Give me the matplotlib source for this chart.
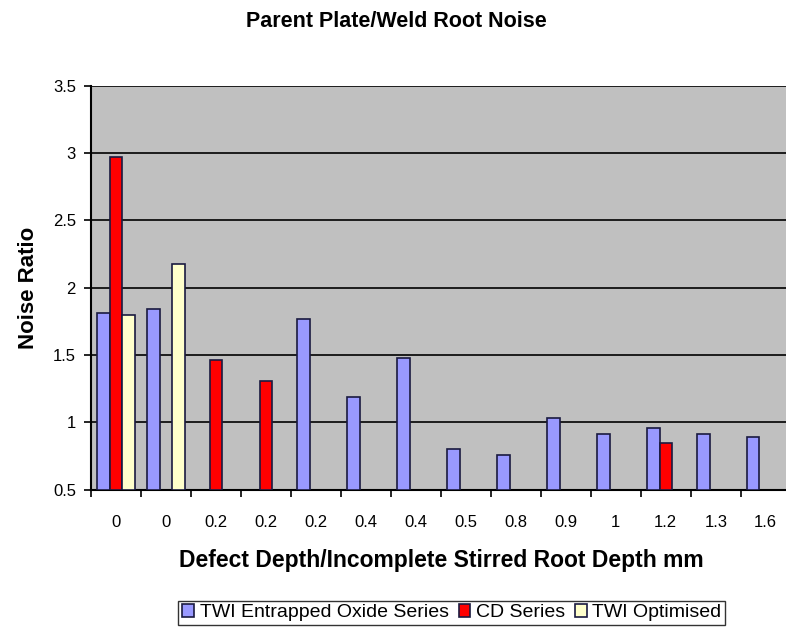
import matplotlib.pyplot as plt
import numpy as np

plt.rcParams['font.family'] = ['Liberation Sans', 'DejaVu Sans']

categories = ['0', '0', '0.2', '0.2', '0.2', '0.4', '0.4', '0.5', '0.8', '0.9', '1', '1.2', '1.3', '1.6']
twi_oxide = [1.81, 1.84, np.nan, np.nan, 1.77, 1.19, 1.48, 0.80, 0.76, 1.03, 0.91, 0.96, 0.91, 0.89]
cd_series = [2.97, np.nan, 1.46, 1.31, np.nan, np.nan, np.nan, np.nan, np.nan, np.nan, np.nan, 0.85, np.nan, np.nan]
twi_optimised = [1.80, 2.18, np.nan, np.nan, np.nan, np.nan, np.nan, np.nan, np.nan, np.nan, np.nan, np.nan, np.nan, np.nan]

fig = plt.figure(figsize=(7.86, 6.31), dpi=100)
ax = fig.add_axes([0.116, 0.224, 0.89, 0.64])
ax.set_facecolor('#C0C0C0')

x = np.arange(len(categories))
w = 0.25
series = [(twi_oxide, '#9999FF', 'TWI Entrapped Oxide Series'),
          (cd_series, '#FF0000', 'CD Series'),
          (twi_optimised, '#FFFFCC', 'TWI Optimised')]
for i, (vals, col, lab) in enumerate(series):
    vals = np.array(vals, dtype=float)
    ax.bar(x + (i - 1) * w, vals - 0.5, bottom=0.5, width=w, color=col,
           edgecolor='#1a1a40', linewidth=1.2, label=lab, zorder=3)

ax.set_ylim(0.5, 3.5)
ax.set_xlim(-0.5, len(categories) - 0.5)
ax.set_yticks([0.5, 1, 1.5, 2, 2.5, 3, 3.5])
ax.set_yticklabels(['0.5', '1', '1.5', '2', '2.5', '3', '3.5'])
ax.yaxis.grid(True, color='black', linewidth=1.2, zorder=1)
ax.set_axisbelow(True)

ax.set_xticks(x)
ax.set_xticklabels(categories)
ax.set_xticks(np.arange(-0.5, len(categories)), minor=True)
ax.tick_params(axis='x', which='major', length=0, labelsize=12, pad=18)
ax.tick_params(axis='x', which='minor', length=5, width=1.2, direction='out')
ax.tick_params(axis='y', length=5, width=1.2, labelsize=12, direction='out', pad=6)

for s in ['top', 'right']:
    ax.spines[s].set_visible(False)
ax.spines['left'].set_linewidth(1.5)
ax.spines['bottom'].set_linewidth(1.5)

ax.set_ylabel('Noise Ratio', fontsize=16, fontweight='bold', labelpad=10)
ax.set_xlabel('Defect Depth/Incomplete Stirred Root Depth mm', fontsize=16.5,
              fontweight='bold', labelpad=14)
fig.suptitle('Parent Plate/Weld Root Noise', fontsize=15.5, fontweight='bold', y=0.982, x=0.504)

leg = fig.legend(loc='lower center', bbox_to_anchor=(0.575, 0.009), ncol=3,
                 fontsize=14, frameon=True, fancybox=False, edgecolor='black',
                 handlelength=0.6, handleheight=0.6, handletextpad=0.3,
                 columnspacing=0.5, borderpad=0.2, borderaxespad=0)
leg.get_frame().set_linewidth(1.0)

fig.savefig('out.png', dpi=100)
